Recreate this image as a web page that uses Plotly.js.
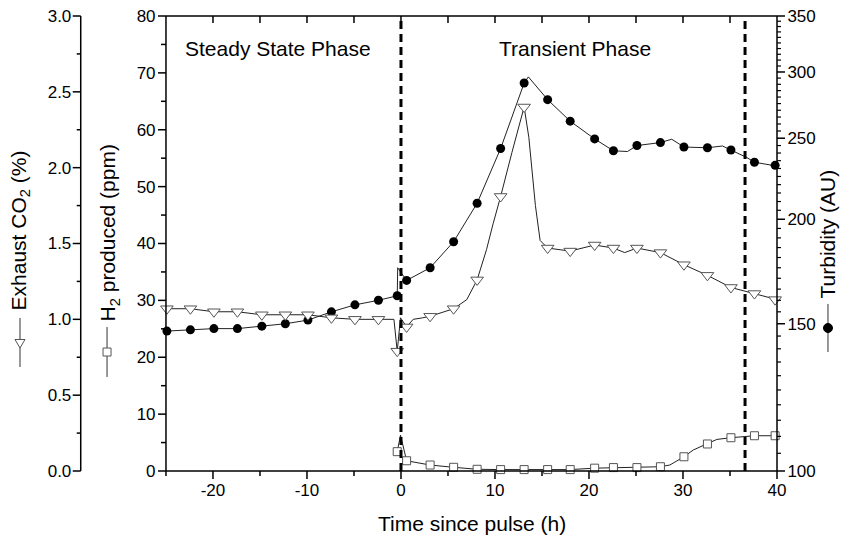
<!DOCTYPE html>
<html>
<head>
<meta charset="utf-8">
<script src="https://cdn.plot.ly/plotly-3.0.1.min.js"></script>
<style>
html,body{margin:0;padding:0;background:#fff;}
#chart{width:845px;height:538px;}
</style>
</head>
<body>
<div id="chart"></div>
<script>
// ---- data ----
const markerTime = [-24.9, -22.4, -19.9, -17.4, -14.8, -12.3, -9.9, -7.4, -4.9, -2.4, -0.4, 0.6, 3.1, 5.6, 8.1, 10.6, 13.1, 15.6, 18.0, 20.6, 22.6, 25.1, 27.6, 30.1, 32.6, 35.1, 37.6, 39.8];
const co2Markers = [1.07, 1.07, 1.05, 1.05, 1.03, 1.03, 1.03, 1.01, 1.00, 1.00, 0.79, 0.95, 1.02, 1.07, 1.26, 1.81, 2.40, 1.47, 1.45, 1.49, 1.47, 1.47, 1.44, 1.36, 1.29, 1.21, 1.17, 1.13];
const turbMarkers = [147, 147.5, 148, 148, 149, 150, 151.5, 155, 158, 160, 162, 169, 175, 188, 209, 243, 291, 278, 262, 249.5, 241.5, 245, 247, 244, 243.5, 242, 234, 232];
const h2MarkerTime = [-0.4, 0.6, 3.1, 5.6, 8.1, 10.6, 13.1, 15.6, 18.0, 20.6, 22.6, 25.1, 27.6, 30.1, 32.6, 35.1, 37.6, 39.8];
const h2Markers = [3.4, 1.8, 1.05, 0.65, 0.3, 0.25, 0.25, 0.25, 0.25, 0.5, 0.6, 0.6, 0.75, 2.5, 4.75, 5.85, 6.2, 6.2];

// continuous traces (measured line, including points between markers)
const co2LineTime = [-25, -24.9, -22.4, -19.9, -17.4, -14.8, -12.3, -9.9, -7.4, -4.9, -2.4, -0.75, -0.4, -0.05, 0.6, 1.3, 2.3, 3.1, 5.6, 7.0, 8.1, 9.1, 9.8, 10.6, 11.8, 13.1, 13.6, 14.3, 14.8, 15.6, 18.0, 20.6, 22.6, 23.8, 25.1, 27.6, 30.1, 32.6, 35.1, 37.6, 39.8, 40];
const co2Line = [1.07, 1.07, 1.07, 1.05, 1.05, 1.03, 1.03, 1.03, 1.01, 1.00, 1.00, 1.00, 0.79, 1.01, 0.95, 1.00, 1.01, 1.02, 1.07, 1.13, 1.26, 1.46, 1.63, 1.81, 2.10, 2.40, 2.20, 1.75, 1.52, 1.47, 1.45, 1.49, 1.47, 1.44, 1.47, 1.44, 1.36, 1.29, 1.21, 1.17, 1.13, 1.13];
const turbLineTime = [-25, -24.9, -22.4, -19.9, -17.4, -14.8, -12.3, -9.9, -7.4, -4.9, -2.4, -0.4, -0.35, 0.6, 3.1, 5.6, 8.1, 10.6, 13.1, 13.55, 15.6, 18.0, 20.6, 22.6, 24.1, 25.1, 27.6, 28.8, 30.1, 32.6, 34.2, 35.1, 36.8, 37.6, 39.8, 40];
const turbLine = [146.5, 147, 147.5, 148, 148, 149, 150, 151.5, 155, 158, 160, 162, 175, 169, 175, 188, 209, 243, 291, 296, 278, 262, 249.5, 241.5, 241, 245, 247, 249.3, 244, 243.5, 244.7, 242, 237, 234, 232, 231.5];
const h2LineTime = [-0.4, -0.05, 0.6, 3.1, 5.6, 8.1, 10.6, 13.1, 15.6, 18.0, 20.6, 22.6, 25.1, 27.6, 28.6, 30.1, 31.1, 32.6, 33.6, 35.1, 37.6, 39.8, 40];
const h2Line = [3.4, 6.3, 1.8, 1.05, 0.65, 0.3, 0.25, 0.25, 0.25, 0.25, 0.5, 0.6, 0.6, 0.75, 1.05, 2.5, 3.7, 4.75, 5.55, 5.85, 6.2, 6.2, 6.2];

const phaseBoundaries = [0, 36.6];
const phaseLabels = ["Steady State Phase", "Transient Phase"];
const phaseLabelX = [-13.1, 18.5];
const xTicks = [-20, -10, 0, 10, 20, 30, 40];
const xTickText = ["-20", "-10", "0", "10", "20", "30", "40"];
const xMinorTicks = [-25, -15, -5, 5, 15, 25, 35];
const topTicks = [-20, -15, -10, -5, 0, 5, 10, 15, 20, 25, 30, 35];
const h2Ticks = [0, 10, 20, 30, 40, 50, 60, 70, 80];
const h2MinorTicks = [5, 15, 25, 35, 45, 55, 65, 75];
const co2Ticks = [0, 0.5, 1.0, 1.5, 2.0, 2.5, 3.0];
const co2MinorTicks = [0.25, 0.75, 1.25, 1.75, 2.25, 2.75];
const turbTicks = [100, 150, 200, 250, 300, 350];
const turbMinor = [];
for (let v = 105; v < 350; v += 5) { if (v % 50 !== 0) turbMinor.push(v); }

// ---- chart ----
const FONT = "Liberation Sans, Arial, sans-serif";
const lineColor = "#222";
const xDomain = [0.1478, 1];
const xRange = [-25, 40];
const h2Range = [0, 80];
const co2Range = [0, 3];
const turbRange = [100, 350];
const co2AxisPos = 0.0289;

const traces = [
  {x: h2LineTime, y: h2Line, yaxis: "y", mode: "lines", line: {color: lineColor, width: 1}, hoverinfo: "skip"},
  {x: h2MarkerTime, y: h2Markers, yaxis: "y", mode: "markers", cliponaxis: false,
   marker: {symbol: "square", size: 8, color: "#fff", line: {color: "#555", width: 1}}},
  {x: turbLineTime, y: turbLine, yaxis: "y2", mode: "lines", line: {color: lineColor, width: 1}, hoverinfo: "skip"},
  {x: markerTime, y: turbMarkers, yaxis: "y2", mode: "markers", cliponaxis: false,
   marker: {symbol: "circle", size: 9, color: "#000"}},
  {x: co2LineTime, y: co2Line, yaxis: "y3", mode: "lines", line: {color: lineColor, width: 1}, hoverinfo: "skip"},
  {x: markerTime, y: co2Markers, yaxis: "y3", mode: "markers", cliponaxis: false,
   marker: {symbol: "triangle-down", size: 11, color: "#fff", line: {color: "#555", width: 1}}}
];

// axis labels come from the axes; tick marks and spines are drawn as paper shapes
const clear = "rgba(0,0,0,0)";
const axBase = {showline: false, showgrid: false, zeroline: false,
  ticks: "outside", tickcolor: clear, tickwidth: 1, ticklen: 6,
  tickfont: {family: FONT, size: 17, color: "#000"}};

// axis scale -> paper fraction helpers (same mapping as the axes)
const fx = t => xDomain[0] + (t - xRange[0]) / (xRange[1] - xRange[0]) * (xDomain[1] - xDomain[0]);
const fH2 = v => (v - h2Range[0]) / (h2Range[1] - h2Range[0]);
const fCo2 = v => (v - co2Range[0]) / (co2Range[1] - co2Range[0]);
const fTurb = v => Math.log10(v / turbRange[0]) / Math.log10(turbRange[1] / turbRange[0]);

const black = {color: "#000", width: 1.5};
const thin = {color: "#000", width: 1.2};
const shapes = [];
// frame and the free CO2 spine
shapes.push(
  {type: "line", xref: "paper", yref: "paper", x0: xDomain[0], x1: xDomain[0], y0: 0, y1: 1, line: black},
  {type: "line", xref: "paper", yref: "paper", x0: 1, x1: 1, y0: 0, y1: 1, line: black},
  {type: "line", xref: "paper", yref: "paper", x0: xDomain[0], x1: 1, y0: 0, y1: 0, line: black},
  {type: "line", xref: "paper", yref: "paper", x0: xDomain[0], x1: 1, y0: 1, y1: 1, line: black},
  {type: "line", xref: "paper", yref: "paper", x0: co2AxisPos, x1: co2AxisPos, y0: 0, y1: 1, line: black}
);
// horizontal-axis ticks: outward at the bottom, inward at the top
const xTick = (t, len, anchor, ln) => ({type: "line", xref: "paper", yref: "paper", ysizemode: "pixel", yanchor: anchor,
  x0: fx(t), x1: fx(t), y0: 0, y1: len, line: ln});
xTicks.forEach(t => shapes.push(xTick(t, -8, 0, black)));
xMinorTicks.forEach(t => shapes.push(xTick(t, -5, 0, black)));
topTicks.forEach(t => shapes.push(xTick(t, -7, 1, black)));
// vertical-axis ticks
const yTick = (f, anchor, len, ln) => ({type: "line", xref: "paper", yref: "paper", xsizemode: "pixel", xanchor: anchor,
  x0: 0, x1: len, y0: f, y1: f, line: ln});
h2Ticks.forEach(v => shapes.push(yTick(fH2(v), xDomain[0], -8, black)));
h2MinorTicks.forEach(v => shapes.push(yTick(fH2(v), xDomain[0], -5, black)));
co2Ticks.forEach(v => shapes.push(yTick(fCo2(v), co2AxisPos, -8, black)));
co2MinorTicks.forEach(v => shapes.push(yTick(fCo2(v), co2AxisPos, -4, black)));
turbTicks.forEach(v => shapes.push(yTick(fTurb(v), 1, 8, black)));
turbMinor.forEach(v => shapes.push(yTick(fTurb(v), 1, 4, thin)));

// phase boundaries
phaseBoundaries.forEach(b => shapes.push({
  type: "line", xref: "x", yref: "paper", x0: b, x1: b, y0: 0, y1: 1,
  line: {color: "#000", width: 3, dash: "8px,5px"}
}));

// legend glyphs next to rotated axis titles
const co2X = -0.0558, h2X = 0.0656, turbX = 1.0711;
shapes.push(
  {type: "line", xref: "paper", yref: "paper", x0: co2X, x1: co2X, y0: 0.2286, y1: 0.3363, line: {color: "#333", width: 1}},
  {type: "path", xref: "paper", yref: "paper", xsizemode: "pixel", ysizemode: "pixel", xanchor: co2X, yanchor: 0.2813,
   path: "M-5,3.5 L5,3.5 L0,-5 Z", fillcolor: "#fff", line: {color: "#555", width: 1}},
  {type: "line", xref: "paper", yref: "paper", x0: h2X, x1: h2X, y0: 0.2066, y1: 0.3165, line: {color: "#333", width: 1}},
  {type: "rect", xref: "paper", yref: "paper", xsizemode: "pixel", ysizemode: "pixel", xanchor: h2X, yanchor: 0.2615,
   x0: -4, x1: 4, y0: -4, y1: 4, fillcolor: "#fff", line: {color: "#555", width: 1}},
  {type: "line", xref: "paper", yref: "paper", x0: turbX, x1: turbX, y0: 0.2615, y1: 0.367, line: {color: "#333", width: 1}},
  {type: "circle", xref: "paper", yref: "paper", xsizemode: "pixel", ysizemode: "pixel", xanchor: turbX, yanchor: 0.3143,
   x0: -4.5, x1: 4.5, y0: -4.5, y1: 4.5, fillcolor: "#000", line: {color: "#000", width: 1}}
);

const titleFont = {family: FONT, size: 21, color: "#000"};
const ann = (o) => Object.assign({showarrow: false, xanchor: "center", yanchor: "middle", font: titleFont}, o);
const annotations = phaseLabels.map((t, i) => ann({text: t, x: phaseLabelX[i], y: 74.2, xref: "x", yref: "y"}));
annotations.push(
  ann({text: "Exhaust CO<sub>2</sub> (%)", xref: "paper", yref: "paper", x: -0.0558, y: 0.5286, textangle: -90}),
  ann({text: "H<sub>2</sub> produced (ppm)", xref: "paper", yref: "paper", x: 0.0697, y: 0.5242, textangle: -90}),
  ann({text: "Turbidity (AU)", xref: "paper", yref: "paper", x: 1.0711, y: 0.522, textangle: -90}),
  ann({text: "Time since pulse (h)", xref: "paper", yref: "paper", x: 0.5746, y: -0.1143})
);

const layout = {
  width: 845, height: 538,
  margin: {l: 60, r: 68, t: 16, b: 67},
  showlegend: false,
  paper_bgcolor: "#fff", plot_bgcolor: "#fff",
  xaxis: Object.assign({}, axBase, {
    domain: xDomain, range: xRange, tickmode: "array", tickvals: xTicks, ticktext: xTickText, ticklen: 4
  }),
  yaxis: Object.assign({}, axBase, {
    anchor: "x", side: "left", range: h2Range, tickmode: "array", tickvals: h2Ticks
  }),
  yaxis2: Object.assign({}, axBase, {
    overlaying: "y", side: "right", anchor: "x", type: "log", range: [Math.log10(turbRange[0]), Math.log10(turbRange[1])],
    tickmode: "array", tickvals: turbTicks, ticktext: turbTicks.map(String)
  }),
  yaxis3: Object.assign({}, axBase, {
    overlaying: "y", side: "left", anchor: "free", position: co2AxisPos, range: co2Range,
    tickmode: "array", tickvals: co2Ticks, tickformat: ".1f"
  }),
  shapes: shapes,
  annotations: annotations
};

Plotly.newPlot("chart", traces, layout, {staticPlot: true});
</script>
</body>
</html>
